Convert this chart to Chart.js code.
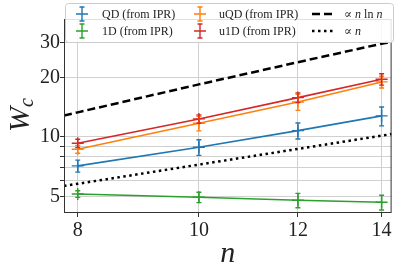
<!DOCTYPE html>
<html>
<head>
<meta charset="utf-8">
<script src="https://cdn.jsdelivr.net/npm/chart.js@4.4.1/dist/chart.umd.min.js"></script>
<style>
  html, body { margin: 0; padding: 0; background: #fff; }
  #chart { display: block; }
</style>
</head>
<body>
<canvas id="chart" width="399" height="271"></canvas>
<script>
// Data
const nValues = [8, 10, 12, 14];
const qdValues = [7.14, 8.87, 10.76, 12.77];
const qdErrors = [0.5, 0.8, 1.0, 1.4];
const oneDValues = [5.15, 4.96, 4.79, 4.68];
const oneDErrors = [0.2, 0.3, 0.4, 0.4];
const uqdValues = [8.67, 11.73, 15.02, 18.96];
const uqdErrors = [0.4, 1.0, 1.4, 1.3];
const u1dValues = [9.29, 12.33, 15.8, 19.56];
const u1dErrors = [0.45, 0.6, 0.9, 1.3];

// guide lines
const guideN = [7.8, 8, 10, 12, 14, 14.26];
const nLnNValues = [12.82, 13.31, 18.42, 23.85, 29.56, 30.29];
const propNValues = [5.66, 5.8, 7.25, 8.7, 10.15, 10.34];

const yTicks = [5, 6, 7, 8, 9, 10, 20, 30];
const yLabelled = [5, 10, 20, 30];
const xTicks = [8, 10, 12, 14];

const serif = '"Liberation Serif", "DejaVu Serif", serif';

function points(xs, ys) {
  return xs.map((x, i) => ({ x: x, y: ys[i] }));
}

function seriesDataset(label, color, values, errors) {
  return {
    label: label,
    data: points(nValues, values),
    errors: errors,
    borderColor: color,
    backgroundColor: color,
    borderWidth: 1.6,
    pointStyle: "cross",
    pointRadius: 6,
    pointBorderWidth: 1.4,
    pointHoverRadius: 6,
    tension: 0,
  };
}

const datasets = [
  seriesDataset("QD (from IPR)", "#1f77b4", qdValues, qdErrors),
  seriesDataset("1D (from IPR)", "#2ca02c", oneDValues, oneDErrors),
  seriesDataset("uQD (from IPR)", "#ff7f0e", uqdValues, uqdErrors),
  seriesDataset("u1D (from IPR)", "#d62728", u1dValues, u1dErrors),
  {
    label: "nlnn",
    data: points(guideN, nLnNValues),
    borderColor: "#000",
    borderWidth: 2.5,
    borderDash: [8, 4],
    pointRadius: 0,
  },
  {
    label: "n",
    data: points(guideN, propNValues),
    borderColor: "#000",
    borderWidth: 2.5,
    borderDash: [2.5, 3.5],
    pointRadius: 0,
  },
];

// error bars with caps
const errorBarPlugin = {
  id: "errorBars",
  afterDatasetsDraw(chart) {
    const ctx = chart.ctx;
    const xs = chart.scales.x;
    const ys = chart.scales.y;
    chart.data.datasets.forEach((ds) => {
      if (!ds.errors) return;
      ctx.save();
      ctx.strokeStyle = ds.borderColor;
      ctx.lineWidth = 1.4;
      ds.data.forEach((p, i) => {
        const e = ds.errors[i];
        const px = xs.getPixelForValue(p.x);
        const top = ys.getPixelForValue(p.y + e);
        const bot = ys.getPixelForValue(p.y - e);
        ctx.beginPath();
        ctx.moveTo(px, top);
        ctx.lineTo(px, bot);
        ctx.moveTo(px - 2.5, top);
        ctx.lineTo(px + 2.5, top);
        ctx.moveTo(px - 2.5, bot);
        ctx.lineTo(px + 2.5, bot);
        ctx.stroke();
      });
      ctx.restore();
    });
  },
};

// draws runs of text like [["∝ ", false], ["n", true]]
function drawRuns(ctx, runs, x, y, size) {
  runs.forEach(([text, italic]) => {
    ctx.font = (italic ? "italic " : "") + size + "px " + serif;
    ctx.fillText(text, x, y);
    x += ctx.measureText(text).width;
  });
}

const framePlugin = {
  id: "frameAndTitles",
  afterDraw(chart) {
    const ctx = chart.ctx;
    const a = chart.chartArea;
    ctx.save();

    // frame
    ctx.strokeStyle = "#333";
    ctx.lineWidth = 1;
    ctx.strokeRect(a.left + 0.5, a.top + 0.5, a.right - a.left - 1, a.bottom - a.top - 1);

    ctx.fillStyle = "#222";
    ctx.textBaseline = "alphabetic";

    // x title
    ctx.font = "italic 30px " + serif;
    ctx.textAlign = "center";
    ctx.fillText("n", (a.left + a.right) / 2, 262);

    // y title W_c
    ctx.save();
    ctx.translate(0, 115);
    ctx.rotate(-Math.PI / 2);
    ctx.textAlign = "left";
    ctx.font = "italic 30px " + serif;
    const wW = ctx.measureText("W").width;
    ctx.font = "italic 20px " + serif;
    const wc = ctx.measureText("c").width;
    const x0 = -(wW + wc) / 2;
    ctx.font = "italic 30px " + serif;
    ctx.fillText("W", x0, 29);
    ctx.font = "italic 20px " + serif;
    ctx.fillText("c", x0 + wW, 33);
    ctx.restore();

    // legend box
    ctx.beginPath();
    ctx.roundRect(65.5, 3.5, 328, 39, 3);
    ctx.fillStyle = "rgba(255,255,255,0.85)";
    ctx.fill();
    ctx.strokeStyle = "#cccccc";
    ctx.stroke();

    const rows = [14, 31];
    const markerCols = [82, 200];
    const textCols = [102, 219];
    const ds = chart.data.datasets;
    for (let i = 0; i < 4; i++) {
      const col = Math.floor(i / 2);
      const row = i % 2;
      const mx = markerCols[col];
      const my = rows[row];
      ctx.strokeStyle = ds[i].borderColor;
      ctx.lineWidth = 1.4;
      ctx.beginPath();
      ctx.moveTo(mx, my - 7);
      ctx.lineTo(mx, my + 7);
      ctx.moveTo(mx - 2.5, my - 7);
      ctx.lineTo(mx + 2.5, my - 7);
      ctx.moveTo(mx - 2.5, my + 7);
      ctx.lineTo(mx + 2.5, my + 7);
      ctx.moveTo(mx - 6, my);
      ctx.lineTo(mx + 6, my);
      ctx.stroke();
      ctx.fillStyle = "#222";
      ctx.textAlign = "left";
      ctx.textBaseline = "middle";
      ctx.font = "12px " + serif;
      ctx.fillText(ds[i].label, textCols[col], my + 1);
    }

    // guide line entries
    ctx.strokeStyle = "#000";
    ctx.lineWidth = 2.5;
    ctx.setLineDash([8, 4]);
    ctx.beginPath();
    ctx.moveTo(312, rows[0]);
    ctx.lineTo(336, rows[0]);
    ctx.stroke();
    ctx.setLineDash([2.5, 3.5]);
    ctx.beginPath();
    ctx.moveTo(312, rows[1]);
    ctx.lineTo(336, rows[1]);
    ctx.stroke();
    ctx.setLineDash([]);

    ctx.fillStyle = "#222";
    ctx.textBaseline = "middle";
    drawRuns(ctx, [["\u221D ", false], ["n", true], [" ln ", false], ["n", true]], 344, rows[0] + 1, 12);
    drawRuns(ctx, [["\u221D ", false], ["n", true]], 344, rows[1] + 1, 12);

    ctx.restore();
  },
};

new Chart(document.getElementById("chart"), {
  type: "line",
  data: { datasets: datasets },
  options: {
    responsive: false,
    animation: false,
    devicePixelRatio: 1,
    layout: { padding: { top: 19, right: 6, left: 0, bottom: 0 } },
    plugins: {
      legend: { display: false },
      tooltip: { enabled: false },
    },
    scales: {
      x: {
        type: "logarithmic",
        min: 7.8,
        max: 14.26,
        afterBuildTicks: (scale) => {
          scale.ticks = xTicks.map((v) => ({ value: v }));
        },
        afterFit: (scale) => {
          scale.height = 58;
        },
        ticks: {
          autoSkip: false,
          maxRotation: 0,
          padding: 2,
          color: "#222",
          font: { family: serif, size: 20 },
          callback: (v) => String(v),
        },
        grid: {
          color: "#d0d0d0",
          tickColor: "#333",
          tickLength: 4,
        },
        border: { display: false },
      },
      y: {
        type: "logarithmic",
        min: 4.13,
        max: 39.4,
        afterBuildTicks: (scale) => {
          scale.ticks = yTicks.map((v) => ({ value: v }));
        },
        afterFit: (scale) => {
          scale.width = 64;
        },
        ticks: {
          autoSkip: false,
          padding: 0,
          color: "#222",
          font: { family: serif, size: 20 },
          callback: (v) => (yLabelled.includes(v) ? String(v) : ""),
        },
        grid: {
          color: "#d0d0d0",
          tickColor: "#333",
          tickLength: 4,
        },
        border: { display: false },
      },
    },
  },
  plugins: [errorBarPlugin, framePlugin],
});
</script>
</body>
</html>
